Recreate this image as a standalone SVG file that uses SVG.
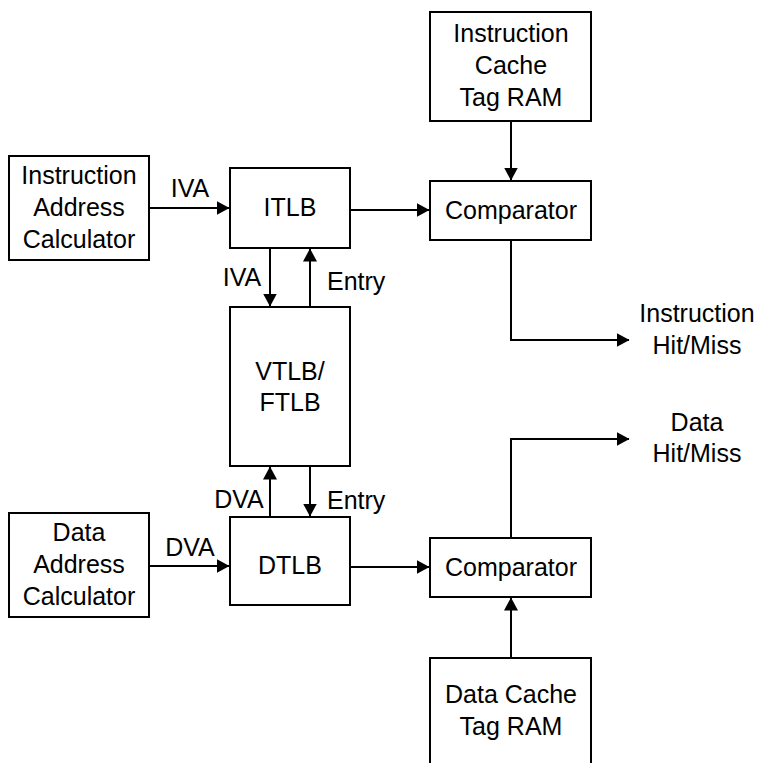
<svg xmlns="http://www.w3.org/2000/svg" width="757" height="763" viewBox="0 0 757 763">
<style>
.box{fill:#fff;stroke:#000;stroke-width:2}
.t{font-family:"Liberation Sans",Arial,sans-serif;font-size:25px;fill:#000;text-anchor:middle}
.tl{font-family:"Liberation Sans",Arial,sans-serif;font-size:25px;fill:#000;text-anchor:start}
.c{fill:none;stroke:#000;stroke-width:2}
</style>
<defs>
<marker id="ah" viewBox="0 0 13 14" refX="12.5" refY="7" markerWidth="13" markerHeight="14" markerUnits="userSpaceOnUse" orient="auto">
<path d="M0,0 L13,7 L0,14 z" fill="#000"/>
</marker>
</defs>
<rect width="757" height="763" fill="#fff"/>
<g id="connectors">
<path class="c" d="M149,208 H229" marker-end="url(#ah)"/>
<path class="c" d="M350,210 H429" marker-end="url(#ah)"/>
<path class="c" d="M511,121 V180" marker-end="url(#ah)"/>
<path class="c" d="M511,240 V340 H629" marker-end="url(#ah)"/>
<path class="c" d="M270,248 V306" marker-end="url(#ah)"/>
<path class="c" d="M310,307 V249" marker-end="url(#ah)"/>
<path class="c" d="M270,517 V467" marker-end="url(#ah)"/>
<path class="c" d="M310,466 V516" marker-end="url(#ah)"/>
<path class="c" d="M149,566 H229" marker-end="url(#ah)"/>
<path class="c" d="M350,567 H429" marker-end="url(#ah)"/>
<path class="c" d="M511,658 V598" marker-end="url(#ah)"/>
<path class="c" d="M511,538 V439 H629" marker-end="url(#ah)"/>
<text class="t" x="190" y="197">IVA</text>
<text class="t" x="242" y="286">IVA</text>
<text class="tl" x="327" y="290">Entry</text>
<text class="t" x="239" y="508">DVA</text>
<text class="tl" x="327" y="509">Entry</text>
<text class="t" x="190" y="556">DVA</text>
</g>
<g id="iac">
<rect class="box" x="9" y="156" width="140" height="104"/>
<text class="t" x="79" y="184">Instruction</text>
<text class="t" x="79" y="216">Address</text>
<text class="t" x="79" y="248">Calculator</text>
</g>
<g id="itlb">
<rect class="box" x="230" y="168" width="120" height="80"/>
<text class="t" x="290" y="216">ITLB</text>
</g>
<g id="ictag">
<rect class="box" x="430" y="12" width="161" height="109"/>
<text class="t" x="511" y="42">Instruction</text>
<text class="t" x="511" y="74">Cache</text>
<text class="t" x="511" y="106">Tag RAM</text>
</g>
<g id="icomp">
<rect class="box" x="430" y="181" width="161" height="59"/>
<text class="t" x="511" y="219">Comparator</text>
</g>
<g id="ihm">
<text class="t" x="697" y="322">Instruction</text>
<text class="t" x="697" y="354">Hit/Miss</text>
</g>
<g id="vtlb">
<rect class="box" x="230" y="307" width="120" height="159"/>
<text class="t" x="290" y="380">VTLB/</text>
<text class="t" x="290" y="411">FTLB</text>
</g>
<g id="dac">
<rect class="box" x="9" y="513" width="140" height="104"/>
<text class="t" x="79" y="541">Data</text>
<text class="t" x="79" y="573">Address</text>
<text class="t" x="79" y="605">Calculator</text>
</g>
<g id="dtlb">
<rect class="box" x="230" y="517" width="120" height="88"/>
<text class="t" x="290" y="574">DTLB</text>
</g>
<g id="dhm">
<text class="t" x="697" y="431">Data</text>
<text class="t" x="697" y="462">Hit/Miss</text>
</g>
<g id="dcomp">
<rect class="box" x="430" y="538" width="161" height="59"/>
<text class="t" x="511" y="576">Comparator</text>
</g>
<g id="dctag">
<rect class="box" x="430" y="658" width="161" height="120"/>
<text class="t" x="511" y="703">Data Cache</text>
<text class="t" x="511" y="735">Tag RAM</text>
</g>
</svg>
